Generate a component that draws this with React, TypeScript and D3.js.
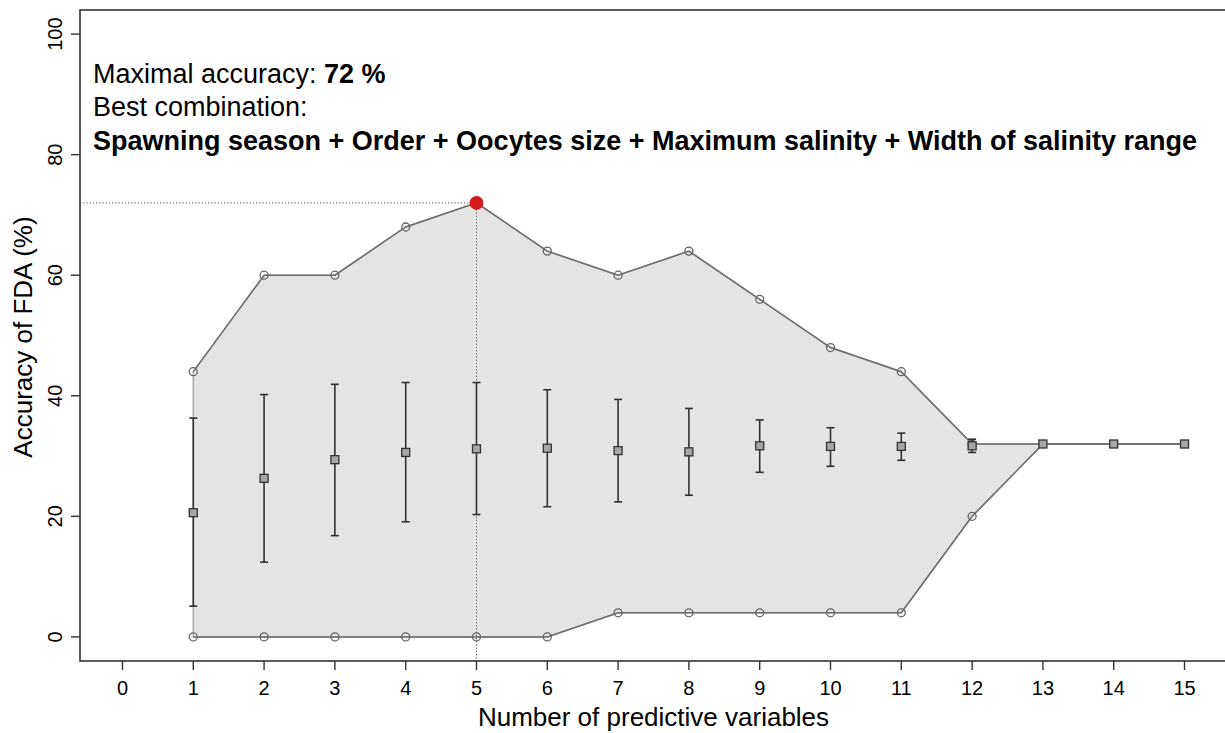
import React, { useRef, useEffect } from 'react'
import * as d3 from 'd3'

// number of predictive variables
const nVars = [1, 2, 3, 4, 5, 6, 7, 8, 9, 10, 11, 12, 13, 14, 15]
// best and worst accuracy over all combinations (%)
const maxAcc = [44, 60, 60, 68, 72, 64, 60, 64, 56, 48, 44, 32, 32, 32, 32]
const minAcc = [0, 0, 0, 0, 0, 0, 4, 4, 4, 4, 4, 20, 32, 32, 32]
// mean accuracy and error bar limits (%)
const meanAcc = [20.6, 26.3, 29.4, 30.6, 31.2, 31.3, 30.9, 30.7, 31.7, 31.6, 31.6, 31.7, 32, 32, 32]
const upperAcc = [36.3, 40.2, 41.9, 42.2, 42.2, 41.0, 39.4, 37.9, 36.0, 34.7, 33.8, 32.8, 32, 32, 32]
const lowerAcc = [5.1, 12.4, 16.8, 19.1, 20.3, 21.6, 22.4, 23.5, 27.3, 28.3, 29.3, 30.6, 32, 32, 32]

const xTicks = [0, 1, 2, 3, 4, 5, 6, 7, 8, 9, 10, 11, 12, 13, 14, 15]
const yTicks = [0, 20, 40, 60, 80, 100]

const bestCombination =
	'Spawning season + Order + Oocytes size + Maximum salinity + Width of salinity range'

const App = () => {
	const svgRef = useRef(null)

	useEffect(() => {
		const svg = d3.select(svgRef.current)
		svg.selectAll('*').remove()

		const W = 1225,
			H = 733
		svg.attr('width', W).attr('height', H)

		const x = d3.scaleLinear().domain([-0.6, 15.6]).range([80, 1227])
		const y = d3.scaleLinear().domain([-4, 104]).range([661, 10])
		const font = 'Liberation Sans, Arial, Helvetica, sans-serif'

		const idx = d3.range(nVars.length)

		// envelope between best and worst combination
		const area = d3
			.area()
			.x((i) => x(nVars[i]))
			.y0((i) => y(minAcc[i]))
			.y1((i) => y(maxAcc[i]))
		svg.append('path')
			.attr('d', area(idx))
			.attr('fill', '#e4e4e4')
			.attr('stroke', '#a8a8a8')
			.attr('stroke-width', 1.5)

		const line = d3.line().x((d) => d[0]).y((d) => d[1])
		const drawEnvelopeLine = (vals) => {
			svg.append('path')
				.attr('d', line(idx.map((i) => [x(nVars[i]), y(vals[i])])))
				.attr('fill', 'none')
				.attr('stroke', '#6e6e6e')
				.attr('stroke-width', 1.5)
			svg.append('g')
				.selectAll('circle')
				.data(idx.filter((i) => nVars[i] <= 12))
				.join('circle')
				.attr('cx', (i) => x(nVars[i]))
				.attr('cy', (i) => y(vals[i]))
				.attr('r', 4)
				.attr('fill', 'none')
				.attr('stroke', '#646464')
				.attr('stroke-width', 1.3)
		}
		drawEnvelopeLine(maxAcc)
		drawEnvelopeLine(minAcc)

		// best point reference lines
		const best = d3.maxIndex(maxAcc)
		svg.append('line')
			.attr('x1', 80)
			.attr('x2', x(nVars[best]))
			.attr('y1', y(maxAcc[best]))
			.attr('y2', y(maxAcc[best]))
			.attr('stroke', '#555')
			.attr('stroke-width', 1)
			.attr('stroke-dasharray', '1.2,2')
		svg.append('line')
			.attr('x1', x(nVars[best]))
			.attr('x2', x(nVars[best]))
			.attr('y1', y(maxAcc[best]))
			.attr('y2', 661)
			.attr('stroke', '#555')
			.attr('stroke-width', 1)
			.attr('stroke-dasharray', '1.2,2')

		// error bars
		const eb = svg.append('g').attr('stroke', '#303030').attr('stroke-width', 1.6)
		idx.forEach((i) => {
			if (upperAcc[i] - lowerAcc[i] < 0.01) return
			const cx = x(nVars[i])
			eb.append('line').attr('x1', cx).attr('x2', cx).attr('y1', y(upperAcc[i])).attr('y2', y(lowerAcc[i]))
			eb.append('line').attr('x1', cx - 4).attr('x2', cx + 4).attr('y1', y(upperAcc[i])).attr('y2', y(upperAcc[i]))
			eb.append('line').attr('x1', cx - 4).attr('x2', cx + 4).attr('y1', y(lowerAcc[i])).attr('y2', y(lowerAcc[i]))
		})

		// mean squares
		svg.append('g')
			.selectAll('rect')
			.data(idx)
			.join('rect')
			.attr('x', (i) => x(nVars[i]) - 4)
			.attr('y', (i) => y(meanAcc[i]) - 4)
			.attr('width', 8)
			.attr('height', 8)
			.attr('fill', '#a6a6a6')
			.attr('stroke', '#333')
			.attr('stroke-width', 1.3)

		// maximum
		svg.append('circle')
			.attr('cx', x(nVars[best]))
			.attr('cy', y(maxAcc[best]))
			.attr('r', 7)
			.attr('fill', '#d51a1f')

		// frame
		svg.append('rect')
			.attr('x', 80)
			.attr('y', 10)
			.attr('width', 1147)
			.attr('height', 651)
			.attr('fill', 'none')
			.attr('stroke', '#333')
			.attr('stroke-width', 1.6)

		// x axis
		const xa = svg.append('g')
		xa.selectAll('line')
			.data(xTicks)
			.join('line')
			.attr('x1', (d) => x(d))
			.attr('x2', (d) => x(d))
			.attr('y1', 661)
			.attr('y2', 670)
			.attr('stroke', '#333')
			.attr('stroke-width', 1.4)
		xa.selectAll('text')
			.data(xTicks)
			.join('text')
			.attr('x', (d) => x(d))
			.attr('y', 695)
			.attr('text-anchor', 'middle')
			.style('font-family', font)
			.style('font-size', '20px')
			.text((d) => d)

		// y axis
		const ya = svg.append('g')
		ya.selectAll('line')
			.data(yTicks)
			.join('line')
			.attr('x1', 71)
			.attr('x2', 80)
			.attr('y1', (d) => y(d))
			.attr('y2', (d) => y(d))
			.attr('stroke', '#333')
			.attr('stroke-width', 1.4)
		ya.selectAll('text')
			.data(yTicks)
			.join('text')
			.attr('transform', (d) => `translate(61.5,${y(d)}) rotate(-90)`)
			.attr('text-anchor', 'middle')
			.style('font-family', font)
			.style('font-size', '20px')
			.text((d) => d)

		// axis titles
		svg.append('text')
			.attr('x', 653.5)
			.attr('y', 726)
			.attr('text-anchor', 'middle')
			.style('font-family', font)
			.style('font-size', '26px')
			.text('Number of predictive variables')
		svg.append('text')
			.attr('transform', 'translate(32,337) rotate(-90)')
			.attr('text-anchor', 'middle')
			.style('font-family', font)
			.style('font-size', '26px')
			.text('Accuracy of FDA (%)')

		// annotation
		const note = svg.append('text').style('font-family', font).style('font-size', '27px')
		const l1 = note.append('tspan').attr('x', 93).attr('y', 82.5)
		l1.append('tspan').text('Maximal accuracy: ')
		l1.append('tspan').style('font-weight', 'bold').text(`${maxAcc[best]} %`)
		note.append('tspan').attr('x', 93).attr('y', 116).text('Best combination:')
		note.append('tspan')
			.attr('x', 93)
			.attr('y', 150)
			.style('font-weight', 'bold')
			.text(bestCombination)
	}, [])

	return <svg ref={svgRef} style={{ position: 'absolute', left: 0, top: 0 }}></svg>
}

export default App
